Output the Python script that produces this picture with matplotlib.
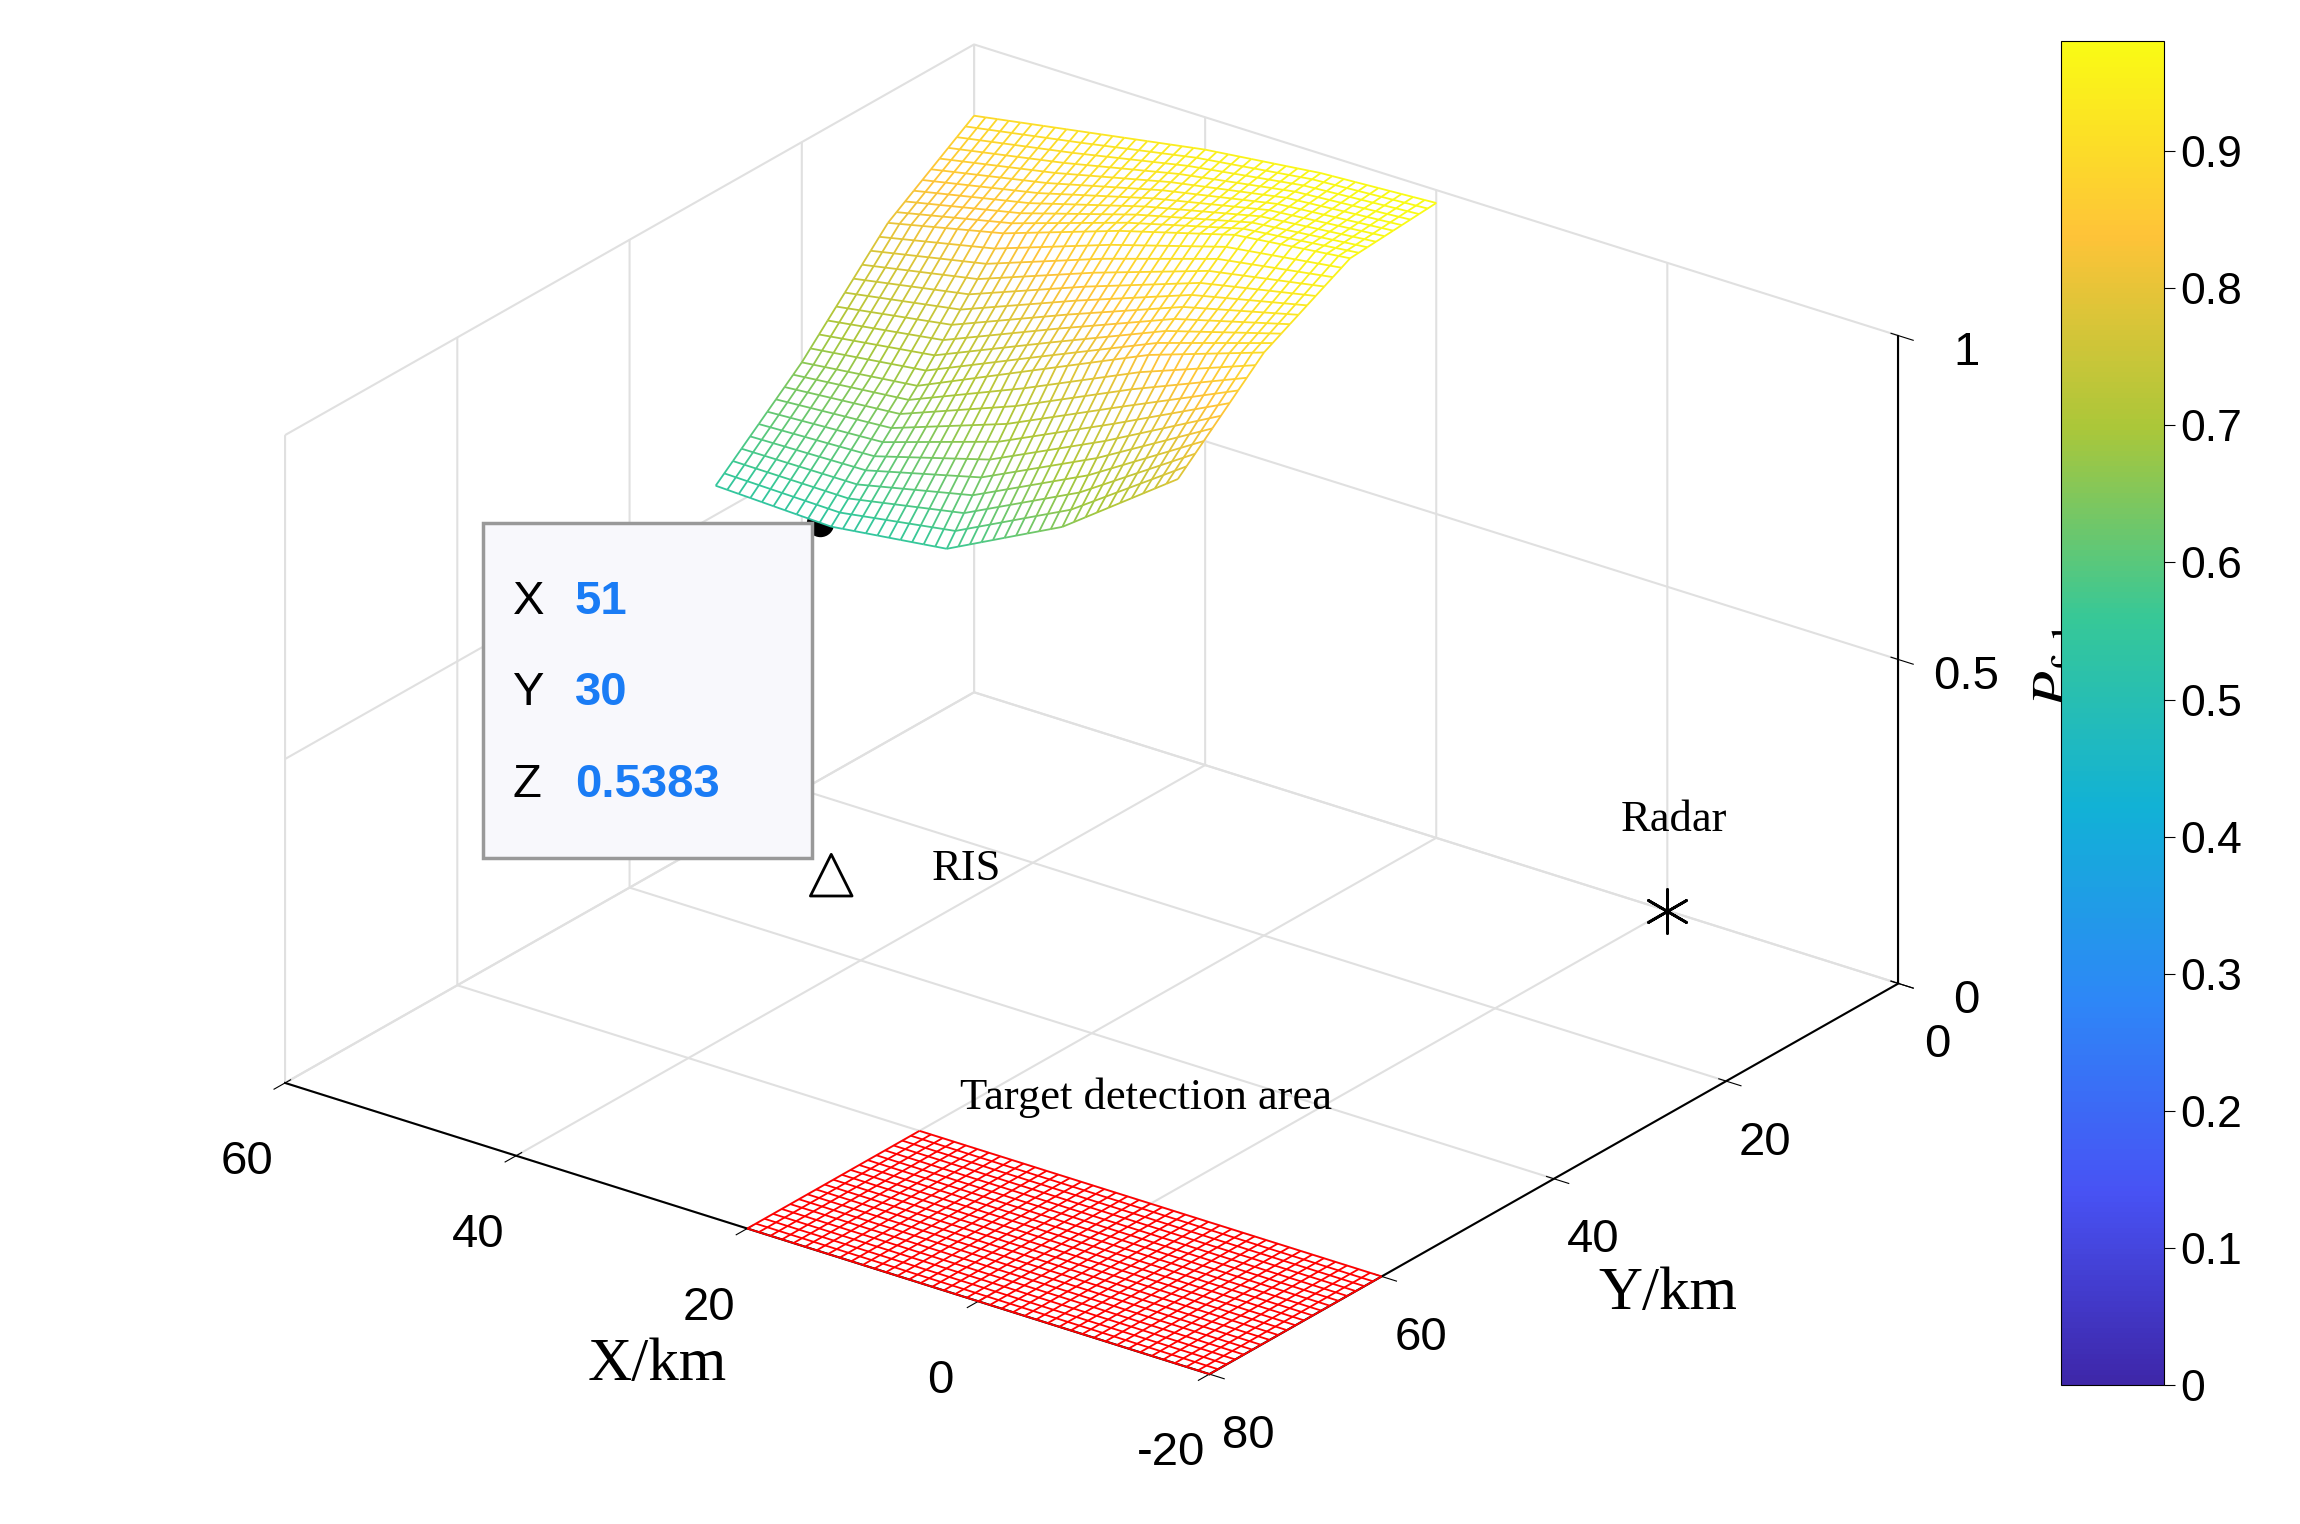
import numpy as np
import matplotlib
matplotlib.use('Agg')
import matplotlib.pyplot as plt
from matplotlib.colors import LinearSegmentedColormap, Normalize
from matplotlib.cm import ScalarMappable
from mpl_toolkits.mplot3d.art3d import Line3DCollection

plt.rcParams['axes.unicode_minus'] = False
plt.rcParams['mathtext.fontset'] = 'stix'

# surface values (coarse grid)
x_nodes = [20, 30, 40, 50, 60]
y_nodes = [0, 10, 20, 30]
z_nodes = [[0.98, 0.97, 0.95, 0.92, 0.89],
           [0.97, 0.95, 0.90, 0.84, 0.80],
           [0.90, 0.84, 0.76, 0.68, 0.66],
           [0.78, 0.65, 0.56, 0.538, 0.545]]
# target area, RIS, radar, data tip
area_x = [-20, 20]
area_y = [60, 80]
ris = (50, 30)
radar = (0, 0)
tip = (51, 30, 0.5383)

parula = LinearSegmentedColormap.from_list('parula', [
    (0.2422, 0.1504, 0.6603), (0.2810, 0.3228, 0.9579), (0.1786, 0.5289, 0.9682),
    (0.0689, 0.6948, 0.8394), (0.2161, 0.7843, 0.5923), (0.6720, 0.7793, 0.2227),
    (0.9970, 0.7659, 0.2199), (0.9769, 0.9839, 0.0805)])
norm = Normalize(0, 0.98)

# mesh refinement for drawing
xs = np.linspace(20, 60, 41)
ys = np.linspace(0, 30, 31)
zt = np.array([np.interp(xs, x_nodes, row) for row in z_nodes])
Z = np.array([np.interp(ys, y_nodes, zt[:, i]) for i in range(len(xs))]).T
X, Y = np.meshgrid(xs, ys)

fig = plt.figure(figsize=(23, 15.24), dpi=100)
ax = fig.add_axes([-0.025, -0.02, 0.98, 1.08], projection='3d')
ax.set_proj_type('ortho')
ax.view_init(elev=25, azim=126.7)
ax.set_box_aspect((1, 1, 0.62), zoom=1.05)

# white faces under the mesh lines
ax.plot_surface(X, Y, Z, color='white', linewidth=0, shade=False, alpha=1)
segs, vals = [], []
P = np.dstack([X, Y, Z])
for i in range(P.shape[0]):
    for j in range(P.shape[1] - 1):
        segs.append([P[i, j], P[i, j + 1]])
        vals.append((Z[i, j] + Z[i, j + 1]) / 2)
for j in range(P.shape[1]):
    for i in range(P.shape[0] - 1):
        segs.append([P[i, j], P[i + 1, j]])
        vals.append((Z[i, j] + Z[i + 1, j]) / 2)
ax.add_collection3d(Line3DCollection(segs, colors=parula(norm(np.array(vals))), linewidths=1.3))

ax_ = np.linspace(area_x[0], area_x[1], 41)
ay_ = np.linspace(area_y[0], area_y[1], 21)
AX, AY = np.meshgrid(ax_, ay_)
ax.plot_wireframe(AX, AY, np.zeros_like(AX), color='red', linewidth=1.3)

ax.scatter([ris[0]], [ris[1]], [0], marker='^', s=900, facecolors='none',
           edgecolors='black', linewidths=2, depthshade=False)
ax.scatter([radar[0]], [radar[1]], [0], marker=(6, 2, 0), s=1000, color='black',
           linewidths=2, depthshade=False)
ax.scatter([tip[0]], [tip[1]], [tip[2]], s=350, color='black', depthshade=False)

ax.text(ris[0] - 5, ris[1] - 5, 0, 'RIS', fontsize=32, family='Liberation Serif', va='center')
ax.text(radar[0] + 4, radar[1], 0.1, 'Radar', fontsize=32, family='Liberation Serif')
ax.text(18, 58, 0.03, 'Target detection area', fontsize=32, family='Liberation Serif')

tf = fig.transFigure
ax.text2D(0.21, 0.44, '', transform=tf, fontsize=36,
          bbox=dict(boxstyle='round,pad=0.3', fc='#f8f8fc', ec='#888888', lw=2))
fig.patches.append(plt.Rectangle((0.21, 0.437), 0.143, 0.22, transform=tf, fc='#f8f8fc',
                                 ec='#999999', lw=2.5, zorder=10))
for k, (lab, v) in enumerate([('X', '51'), ('Y', '30'), ('Z', '0.5383')]):
    yy = 0.605 - k * 0.06
    fig.text(0.223, yy, lab, fontsize=34, family='Liberation Sans', va='center', zorder=11)
    fig.text(0.25, yy, v, fontsize=34, family='Liberation Sans', fontweight='bold',
             color='#1a7cf5', va='center', zorder=11)

ax.set_xlim(-20, 60)
ax.set_ylim(0, 80)
ax.set_zlim(0, 1)
ax.set_xticks([-20, 0, 20, 40, 60])
ax.set_yticks([0, 20, 40, 60, 80])
ax.set_zticks([0, 0.5, 1])
ax.set_zticklabels(['0', '0.5', '1'])
ax.zaxis.set_ticks_position('lower')
ax.zaxis.set_label_position('lower')
for a in (ax.xaxis, ax.yaxis, ax.zaxis):
    a.set_pane_color((1, 1, 1, 1))
    a._axinfo['grid']['color'] = (0.88, 0.88, 0.88)
    a._axinfo['grid']['linewidth'] = 1.5
    a.line.set_linewidth(1.5)
ax.tick_params(labelsize=34, pad=18)
ax.tick_params(axis='x', pad=26)
for t in ax.get_xticklabels() + ax.get_yticklabels() + ax.get_zticklabels():
    t.set_family('Liberation Sans')
ax.set_xlabel('X/km', fontsize=44, family='Liberation Serif', labelpad=60)
ax.set_ylabel('Y/km', fontsize=44, family='Liberation Serif', labelpad=55)
ax.set_zlabel('$P_{\\mathrm{false}}$', fontsize=44, labelpad=40)

cax = fig.add_axes([0.896, 0.091, 0.045, 0.882])
cb = fig.colorbar(ScalarMappable(norm=norm, cmap=parula), cax=cax)
cb.set_ticks(np.arange(0, 1.0, 0.1))
cb.set_ticklabels(['0', '0.1', '0.2', '0.3', '0.4', '0.5', '0.6', '0.7', '0.8', '0.9'])
cb.ax.tick_params(labelsize=32, length=8)
for t in cb.ax.get_yticklabels():
    t.set_family('Liberation Sans')

fig.savefig('out.png', dpi=100)
